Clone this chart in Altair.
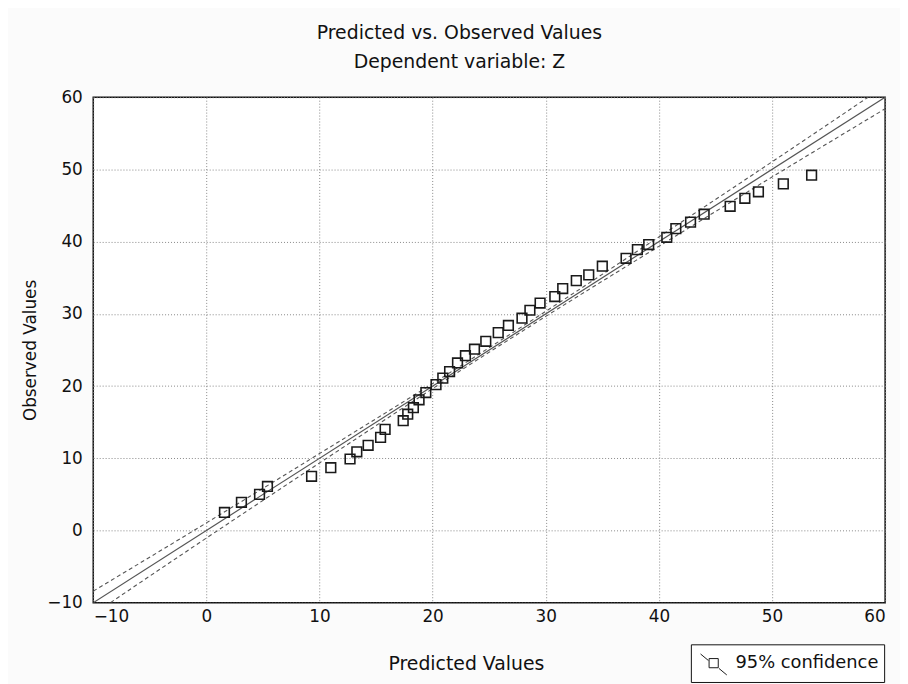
import altair as alt
import pandas as pd

# Observed points (predicted, observed)
pred = [1.6, 3.1, 4.7, 5.4, 9.3, 11.0, 12.7, 13.3, 14.3, 15.4, 15.8, 17.4, 17.8, 18.3,
        18.8, 19.4, 20.3, 20.9, 21.5, 22.2, 22.9, 23.7, 24.7, 25.8, 26.7, 27.9, 28.6,
        29.5, 30.8, 31.5, 32.7, 33.8, 35.0, 37.1, 38.1, 39.1, 40.7, 41.5, 42.8, 44.0,
        46.3, 47.6, 48.8, 51.0, 53.5]
obs = [2.5, 3.9, 5.0, 6.1, 7.5, 8.7, 9.9, 10.9, 11.8, 12.9, 14.0, 15.2, 16.1, 17.0,
       18.1, 19.1, 20.2, 21.1, 22.0, 23.2, 24.2, 25.1, 26.2, 27.4, 28.4, 29.4, 30.5,
       31.5, 32.4, 33.5, 34.6, 35.4, 36.6, 37.7, 38.9, 39.6, 40.6, 41.8, 42.7, 43.8,
       44.9, 46.0, 46.9, 48.0, 49.2]

# Fitted line
fit_x = [-10, 60]
fit_y = [-10, 60]

# 95% confidence bands
band_x = [-10, 0, 10, 20, 30, 40, 50, 60]
band_upper = [-8.4, 1.05, 10.65, 20.35, 30.35, 40.65, 51.05, 61.6]
band_lower = [-11.6, -1.05, 9.35, 19.65, 29.65, 39.35, 48.95, 58.4]

x_ticks = [-10, 0, 10, 20, 30, 40, 50, 60]
y_ticks = [-10, 0, 10, 20, 30, 40, 50, 60]

FONT = "DejaVu Sans"

pts = pd.DataFrame({"pred": pred, "obs": obs, "lab": ["95% confidence"] * len(pred)})
fit = pd.DataFrame({"pred": fit_x, "obs": fit_y})
bands = pd.DataFrame({
    "pred": band_x * 2,
    "obs": band_upper + band_lower,
    "side": ["upper"] * len(band_x) + ["lower"] * len(band_x),
})

xscale = alt.Scale(domain=[-10, 60], nice=False, zero=False)
yscale = alt.Scale(domain=[-10, 60], nice=False, zero=False)

xaxis = alt.Axis(title="Predicted Values", values=x_ticks, ticks=False,
                 labelPadding=6, titlePadding=30, titleX=376,
                 gridDash=[1, 2], gridColor="#888888", gridWidth=1,
                 domain=False)
yaxis = alt.Axis(title="Observed Values", values=y_ticks, ticks=False,
                 labelPadding=11, titlePadding=7, titleFontSize=17,
                 gridDash=[1, 2], gridColor="#888888", gridWidth=1,
                 domain=False)

fit_line = alt.Chart(fit).mark_line(color="#555555", strokeWidth=1.2, clip=True).encode(
    x=alt.X("pred:Q", scale=xscale, axis=xaxis),
    y=alt.Y("obs:Q", scale=yscale, axis=yaxis),
)

band_lines = alt.Chart(bands).mark_line(color="#555555", strokeWidth=1.1,
                                        strokeDash=[4, 3], interpolate="monotone",
                                        clip=True).encode(
    x=alt.X("pred:Q", scale=xscale),
    y=alt.Y("obs:Q", scale=yscale),
    detail="side:N",
)

legend_symbol = ("M-1,-0.7L-0.4,-0.2M0.4,0.4L1,0.9"
                 "M-0.35,-0.35L0.35,-0.35L0.35,0.35L-0.35,0.35Z")

points = alt.Chart(pts).mark_point(shape="square", size=95, filled=False,
                                   strokeWidth=1.6, opacity=1).encode(
    x=alt.X("pred:Q", scale=xscale),
    y=alt.Y("obs:Q", scale=yscale),
    color=alt.Color("lab:N", scale=alt.Scale(range=["#1a1a1a"]),
                    legend=alt.Legend(title=None, orient="none",
                                      legendX=603, legendY=552,
                                      symbolType=legend_symbol, symbolSize=700,
                                      symbolStrokeWidth=1, symbolStrokeColor="#333333",
                                      symbolFillColor="transparent",
                                      symbolOffset=4,
                                      labelFont=FONT, labelFontSize=18, labelColor="#111111",
                                      labelOffset=8,
                                      strokeColor="#111111", padding=5,
                                      fillColor="white")),
)

chart = alt.layer(fit_line, band_lines, points).properties(
    width=799,
    height=510,
    title=alt.TitleParams(text="Predicted vs. Observed Values",
                          subtitle="Dependent variable: Z",
                          font=FONT, fontSize=19, fontWeight="normal", color="#111111",
                          subtitleFont=FONT, subtitleFontSize=19, subtitleColor="#111111",
                          subtitlePadding=11, anchor="middle", dx=-30, offset=16),
    padding={"left": 86, "top": 87, "right": 15, "bottom": 79},
    autosize=alt.AutoSizeParams(type="none"),
).configure(
    background="#fbfbfb"
).configure_view(
    stroke="#111111", strokeWidth=1.5, fill="white"
).configure_axis(
    labelFont=FONT, labelFontSize=17, labelColor="#111111",
    titleFont=FONT, titleFontSize=19, titleFontWeight="normal", titleColor="#111111",
)

chart.save("out.html", embed_options={"renderer": "svg", "actions": False})
